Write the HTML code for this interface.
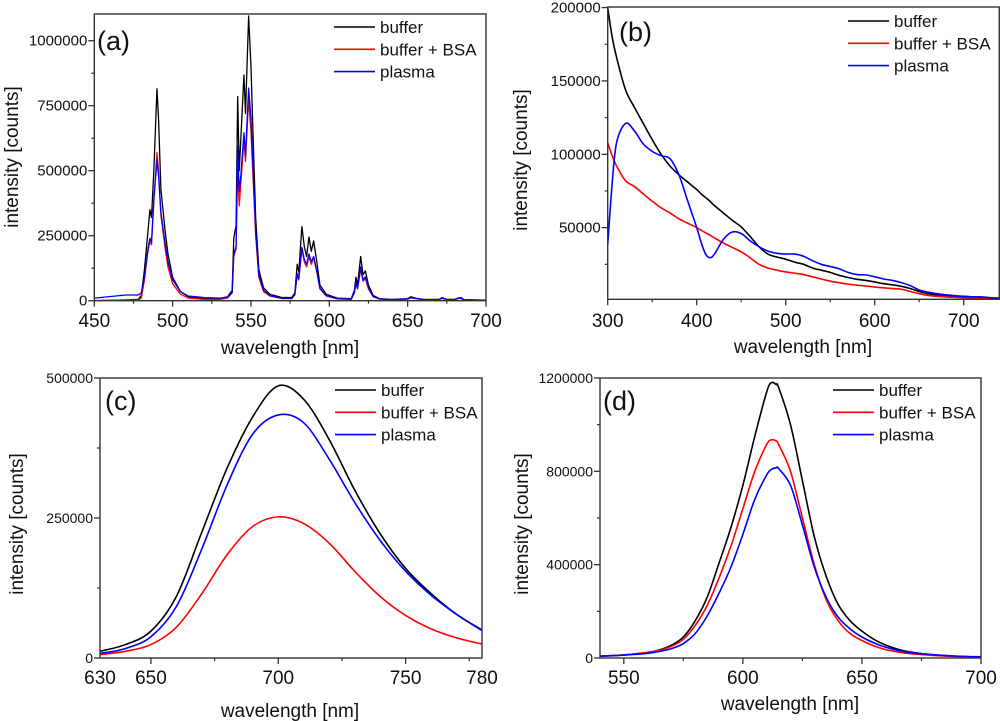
<!DOCTYPE html>
<html><head><meta charset="utf-8"><style>
html,body{margin:0;padding:0;background:#fff;}
svg{display:block;font-family:"Liberation Sans",Arial,sans-serif;}
</style></head><body>
<svg id="fig" width="1000" height="721" viewBox="0 0 1000 721"></svg>
<script>
// ---------- Panel (a) data ----------
const aWl = [450,470,478,480,482,484,485.5,486.5,488,490,491,492.5,495,497,500,505,510,520,530,535,538,539,540.5,541.5,542.5,543.5,545.5,546.5,548.5,550,551.5,553,555,558,562,570,576,578,579.5,580.5,582.5,584,585.5,587,588.5,590,592,594,598,605,614,616,617,618,620,621.5,623,625,628,632,640,650,652,655,660,670,672,675,680,682,684,686,700];
const aBuffer = [0,3000,5000,20000,120000,250000,350000,320000,500000,815000,700000,430000,280000,180000,90000,35000,15000,8000,8000,15000,40000,240000,290000,785000,500000,620000,868000,720000,1095000,900000,600000,320000,120000,50000,25000,12000,12000,30000,140000,110000,285000,210000,170000,245000,190000,230000,150000,60000,25000,10000,8000,40000,90000,60000,170000,100000,115000,60000,20000,8000,5000,8000,15000,10000,5000,5000,12000,5000,5000,10000,12000,4000,2000];
const aBSA = [0,2000,3000,10000,80000,180000,230000,215000,380000,570000,500000,330000,210000,130000,65000,25000,10000,5000,5000,10000,30000,170000,200000,520000,365000,450000,620000,535000,775000,650000,450000,250000,90000,35000,18000,8000,8000,22000,100000,80000,200000,150000,130000,170000,140000,165000,110000,45000,18000,7000,5000,30000,65000,45000,120000,75000,85000,45000,15000,6000,4000,6000,11000,8000,4000,4000,9000,4000,4000,8000,9000,3000,1500];
const aPlasma = [10000,22000,22000,30000,90000,190000,240000,225000,390000,540000,480000,340000,230000,150000,80000,35000,18000,12000,10000,14000,32000,180000,210000,595000,420000,480000,646000,560000,818000,700000,480000,270000,100000,40000,20000,9000,9000,24000,105000,85000,205000,160000,140000,180000,150000,170000,115000,48000,20000,8000,6000,32000,70000,48000,130000,80000,92000,50000,16000,7000,4000,7000,12000,9000,4000,4000,10000,4000,4000,9000,10000,3000,1500];

// ---------- Panel (b) data ----------
const bWl = [300,305,310,320,330,340,350,360,370,380,390,400,405,410,415,420,430,440,450,460,470,480,490,500,510,520,530,540,550,560,570,580,590,600,610,620,630,640,650,660,670,680,690,700,710,720,730,740];
const bBuffer = [200000,180000,166000,144000,132000,121000,110000,100000,92000,86000,81000,76000,73000,70500,68000,65000,60000,55000,50500,44000,37000,32000,30000,28500,26500,25000,22500,21000,19500,17500,16000,14800,14000,13000,11800,11000,10000,8500,6500,5000,4200,3800,3500,3200,2800,2500,2000,1800];
const bBSA = [108000,99000,92000,82000,78000,73000,68000,63500,60000,56000,53000,50000,48200,46500,44800,43000,39500,36500,33500,29500,25000,22500,21000,19800,19000,18000,16500,15000,13500,12500,11500,10800,10200,9500,9000,8500,8000,6500,5000,3800,3200,2800,2500,2200,2000,1800,1600,1500];
const bPlasma = [38000,80000,108000,121000,116000,107000,102000,99000,97000,86000,68000,50000,40000,32000,29500,32000,42000,47000,46000,41000,37000,34000,32500,32000,32000,30500,27500,25000,23500,22000,19500,18000,17800,16500,15000,14000,12500,10500,7500,6000,5000,4200,3600,3000,2800,2800,2300,2000];

// ---------- Panel (c) data ----------
const cWl = [630,640,650,660,670,680,690,700,710,720,730,740,750,760,770,780];
const cBuffer = [12000,24000,48000,110000,225000,340000,431000,486000,462000,390000,300000,222000,160000,115000,78000,50000];
const cBSA = [6000,12000,24000,55000,115000,185000,235000,252000,240000,205000,155000,110000,76000,52000,36000,25000];
const cPlasma = [8000,17000,38000,92000,195000,310000,400000,434000,420000,355000,278000,210000,155000,112000,78000,49000];

// ---------- Panel (d) data ----------
const dWl = [540,550,560,565,570,575,580,585,590,595,600,605,610,612,614,615,620,625,630,635,640,645,650,655,660,665,670,680,690,700];
const dBuffer = [8000,13000,24000,35000,55000,90000,160000,260000,407000,560000,740000,950000,1140000,1180000,1172000,1160000,1000000,760000,520000,350000,230000,160000,115000,80000,55000,38000,26000,13000,7000,5000];
const dBSA = [8000,13000,24000,33000,50000,80000,140000,225000,343000,480000,640000,800000,915000,935000,930000,915000,800000,600000,400000,250000,160000,105000,75000,52000,36000,26000,19000,11000,6000,4000];
const dPlasma = [8000,12000,20000,28000,40000,62000,105000,180000,278000,390000,530000,680000,785000,808000,815000,812000,740000,570000,390000,260000,175000,125000,90000,65000,46000,33000,24000,14000,8000,5000];

// ---------- Tick labels ----------
const aYTicks = [0,250000,500000,750000,1000000];
const aXTicks = [450,500,550,600,650,700];
const bYTicks = [50000,100000,150000,200000];
const bXTicks = [300,400,500,600,700];
const cYTicks = [0,250000,500000];
const cXTicks = [630,650,700,750,780];
const dYTicks = [0,400000,800000,1200000];
const dXTicks = [550,600,650,700];
const legendNames = ["buffer","buffer + BSA","plasma"];

const NS = "http://www.w3.org/2000/svg";
const svg = document.getElementById('fig');
const COLORS = ["#000000","#ff0000","#0000ff"];

function mk(tag, attrs, parent, text){
  const e = document.createElementNS(NS, tag);
  for (const k in attrs) e.setAttribute(k, attrs[k]);
  if (text !== undefined) e.textContent = text;
  parent.appendChild(e);
  return e;
}

function pathD(pts, smooth){
  if (!smooth) return pts.map((p, j) => (j ? 'L' : 'M') + p[0].toFixed(2) + ',' + p[1].toFixed(2)).join(' ');
  let d = 'M' + pts[0][0].toFixed(2) + ',' + pts[0][1].toFixed(2);
  for (let i = 0; i < pts.length - 1; i++) {
    const p0 = pts[Math.max(0, i - 1)], p1 = pts[i], p2 = pts[i + 1], p3 = pts[Math.min(pts.length - 1, i + 2)];
    const c1x = p1[0] + (p2[0] - p0[0]) / 6, c1y = p1[1] + (p2[1] - p0[1]) / 6;
    const c2x = p2[0] - (p3[0] - p1[0]) / 6, c2y = p2[1] - (p3[1] - p1[1]) / 6;
    d += ' C' + c1x.toFixed(2) + ',' + c1y.toFixed(2) + ' ' + c2x.toFixed(2) + ',' + c2y.toFixed(2) + ' ' + p2[0].toFixed(2) + ',' + p2[1].toFixed(2);
  }
  return d;
}

function panel(cfg){
  const g = mk('g', {}, svg);
  
  
  const {l,r,t,b} = cfg.box;
  const sx = v => l + (v - cfg.xd[0]) / (cfg.xd[1] - cfg.xd[0]) * (r - l);
  const sy = v => b - (v - cfg.yd[0]) / (cfg.yd[1] - cfg.yd[0]) * (b - t);
  const cid = 'clip-' + cfg.id;
  const cp = mk('clipPath', {id: cid}, g);
  mk('rect', {x:l, y:t, width:r-l, height:b-t}, cp);
  const sg = mk('g', {'clip-path':'url(#' + cid + ')'}, g);
  
  
  cfg.series.forEach((s, i) => {
    const pts = cfg.x.map((xv, j) => [sx(xv), sy(s[j])]);
    const p = mk('path', {d:pathD(pts, cfg.smooth), fill:'none', stroke:COLORS[i], 'stroke-width':cfg.lw, 'stroke-linejoin':'round'}, sg);
    
    
  });
  const fr = mk('rect', {x:l, y:t, width:r-l, height:b-t, fill:'none', stroke:'#333', 'stroke-width':1.4}, g);
  
  
  const yg = mk('g', {}, g);
  
  
  cfg.yMinor.forEach(v => { const y = sy(v); mk('line', {x1:l-3, x2:l, y1:y, y2:y, stroke:'#333', 'stroke-width':1.2}, yg); });
  cfg.yTicks.forEach(v => {
    const y = sy(v);
    mk('line', {x1:l-6, x2:l, y1:y, y2:y, stroke:'#333', 'stroke-width':1.3}, yg);
    const tx = mk('text', {x:l-7, y:y+5, 'text-anchor':'end', 'font-size':cfg.yfs, fill:'#111'}, yg, String(v));
    
    
  });
  const xg = mk('g', {}, g);
  
  
  cfg.xMinor.forEach(v => { const x = sx(v); mk('line', {x1:x, x2:x, y1:b, y2:b+3, stroke:'#333', 'stroke-width':1.2}, xg); });
  cfg.xMajorTicks.forEach(v => { const x = sx(v); mk('line', {x1:x, x2:x, y1:b, y2:b+6, stroke:'#333', 'stroke-width':1.3}, xg); });
  cfg.xTicks.forEach(v => {
    const tx = mk('text', {x:sx(v), y:cfg.xly, 'text-anchor':'middle', 'font-size':19, fill:'#111'}, xg, String(v));
    
    
  });
  const xt = mk('text', {x:cfg.xtx, y:cfg.xty, 'text-anchor':'middle', 'font-size':19, fill:'#111'}, g, 'wavelength [nm]');
  
  
  const yt = mk('text', {x:0, y:0, 'text-anchor':'middle', 'font-size':19, fill:'#111', transform:'translate(' + cfg.ytx + ',' + cfg.yty + ') rotate(-90)'}, g, 'intensity [counts]');
  
  
  const pl = mk('text', {x:cfg.lx, y:cfg.ly, 'font-size':27, fill:'#111'}, g, '(' + cfg.id + ')');
  
  
  const lg = mk('g', {}, g);
  
  
  legendNames.forEach((n, i) => {
    const y = cfg.legY + i * 22.3;
    const ent = mk('g', {}, lg);
    
    
    mk('line', {x1:cfg.legX, x2:cfg.legX + 41, y1:y, y2:y, stroke:COLORS[i], 'stroke-width':1.6}, ent);
    mk('text', {x:cfg.legX + 46, y:y + 6, 'font-size':17, fill:'#111'}, ent, n);
  });
}

panel({id:'a', box:{l:94.3,r:486,t:14,b:300.7}, xd:[450,700], yd:[0,1102700], x:aWl, series:[aBuffer,aBSA,aPlasma], lw:1.3, smooth:false,
  yTicks:aYTicks, yMinor:[125000,375000,625000,875000], yfs:15,
  xTicks:aXTicks, xMajorTicks:aXTicks, xMinor:[475,525,575,625,675], xly:327,
  xtx:290, xty:354, ytx:18, yty:157, lx:97, ly:50, legX:334, legY:27});

panel({id:'b', box:{l:607.7,r:999.3,t:7,b:299.3}, xd:[300,740], yd:[1160,200400], x:bWl, series:[bBuffer,bBSA,bPlasma], lw:1.6, smooth:true,
  yTicks:bYTicks, yMinor:[25000,75000,125000,175000], yfs:15,
  xTicks:bXTicks, xMajorTicks:bXTicks, xMinor:[350,450,550,650], xly:327,
  xtx:803, xty:353, ytx:527, yty:160, lx:619, ly:41, legX:848, legY:21});

panel({id:'c', box:{l:100,r:482,t:378,b:658}, xd:[630,780], yd:[0,500000], x:cWl, series:[cBuffer,cBSA,cPlasma], lw:1.6, smooth:true,
  yTicks:cYTicks, yMinor:[125000,375000], yfs:14,
  xTicks:cXTicks, xMajorTicks:[650,700,750], xMinor:[675,725,775], xly:684,
  xtx:290, xty:717, ytx:23, yty:524, lx:105, ly:410, legX:335, legY:390});

panel({id:'d', box:{l:600,r:981,t:378,b:658}, xd:[540,700], yd:[0,1200000], x:dWl, series:[dBuffer,dBSA,dPlasma], lw:1.6, smooth:true,
  yTicks:dYTicks, yMinor:[200000,600000,1000000], yfs:14,
  xTicks:dXTicks, xMajorTicks:dXTicks, xMinor:[575,625,675], xly:684,
  xtx:790, xty:710, ytx:528, yty:524, lx:603, ly:410, legX:833, legY:390});
</script>
</body></html>
